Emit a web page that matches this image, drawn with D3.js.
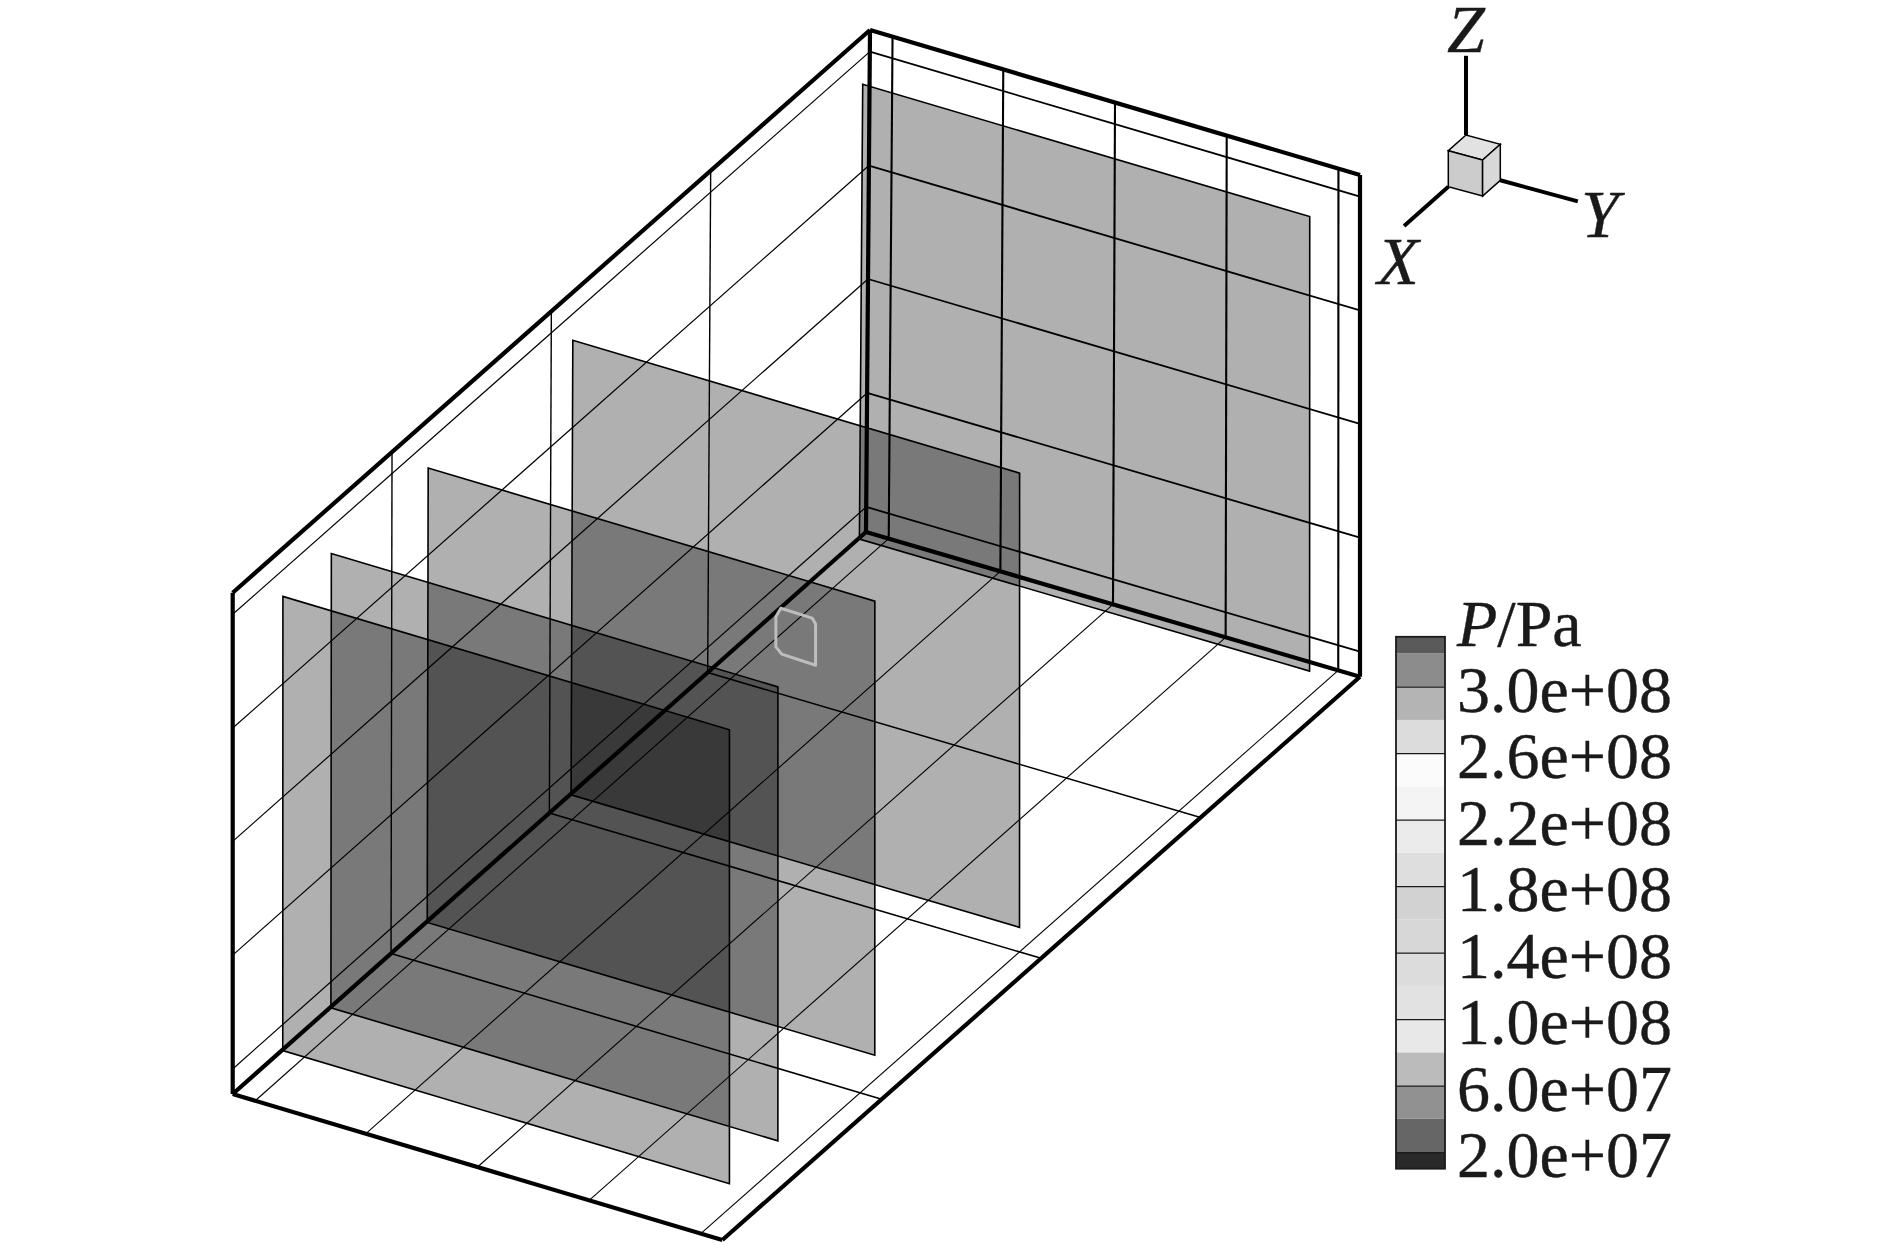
<!DOCTYPE html>
<html lang="en">
<head>
<meta charset="UTF-8" />
<title>P/Pa slices</title>
<style>
  body { margin: 0; background: #fff; }
  svg { display: block; }
  text { font-family: "Liberation Serif", serif; fill: #1a1a1a; stroke: #1a1a1a; stroke-width: 0.4; }
  .tick text { font-size: 66px; }
</style>
</head>
<body>
<svg width="1889" height="1252"></svg>
<script src="https://d3js.org/d3.v7.min.js"></script>
<script>
// model coordinates are fractions of the box: depth 0 = front, 1 = back
var depthGrid = [0.25, 0.5, 0.75];
var widthGrid = [0.046, 0.272, 0.5, 0.728, 0.956];
var heightGrid = [0.05, 0.277, 0.504, 0.73, 0.957];

var sliceDepths = [0.955, 0.5, 0.273, 0.121, 0.045];
var sliceWidths = [0.044, 0.956];
var sliceHeights = [0.049, 0.955];

// small light outline seen on the third slice
var outlineDepth = 0.273;
var outlineWidths = [0.754, 0.764, 0.828, 0.835, 0.835, 0.766, 0.754];
var outlineHeights = [0.865, 0.885, 0.884, 0.874, 0.792, 0.794, 0.805];

var bandEdges = [1e7, 2e7, 4e7, 6e7, 8e7, 1e8, 1.2e8, 1.4e8, 1.6e8, 1.8e8, 2e8, 2.2e8, 2.4e8, 2.6e8, 2.8e8, 3e8, 3.2e8, 3.3e8];
var tickValues = [3e8, 2.6e8, 2.2e8, 1.8e8, 1.4e8, 1e8, 6e7, 2e7];
var tickLabels = ["3.0e+08", "2.6e+08", "2.2e+08", "1.8e+08", "1.4e+08", "1.0e+08", "6.0e+07", "2.0e+07"];

var svg = d3.select("svg");

var lerp = function(a, b, t) {
  return d3.scaleLinear().domain([0, 1]).range([a, b])(t);
};

// frame corners on the page, [front, back] for each w/h corner
var bottomLeft = [[232.7, 1094], [866, 532]],
    bottomRight = [[722.3, 1240], [1360, 676.7]],
    topLeft = [[232.7, 592.7], [870, 30]],
    topRight = [[722.3, 739], [1360, 175]];

function project(d, w, h) {
  return [0, 1].map(function(i) {
    var low = lerp(lerp(bottomLeft[0][i], bottomLeft[1][i], d), lerp(bottomRight[0][i], bottomRight[1][i], d), w);
    var high = lerp(lerp(topLeft[0][i], topLeft[1][i], d), lerp(topRight[0][i], topRight[1][i], d), w);
    return lerp(low, high, h);
  });
}

var openPath = d3.line();
var closedPath = d3.line().curve(d3.curveLinearClosed);

function seg(g, a, b, width) {
  g.append("path")
    .attr("d", openPath([project.apply(null, a), project.apply(null, b)]))
    .attr("fill", "none")
    .attr("stroke", "#000")
    .attr("stroke-width", width);
}

// grid on floor and the two walls
var grid = svg.append("g");
heightGrid.forEach(function(h) {
  seg(grid, [0, 0, h], [1, 0, h], 1.2);
  seg(grid, [1, 0, h], [1, 1, h], 1.8);
});
depthGrid.forEach(function(d) {
  seg(grid, [d, 0, 0], [d, 0, 1], 1.4);
  seg(grid, [d, 0, 0], [d, 1, 0], 1.6);
});
widthGrid.forEach(function(w) {
  seg(grid, [1, w, 0], [1, w, 1], 2.1);
  seg(grid, [0, w, 0], [1, w, 0], 1.1);
});

// box frame
var frame = svg.append("g");
[
  [[0, 0, 0], [0, 0, 1]],
  [[0, 0, 1], [1, 0, 1]],
  [[1, 0, 1], [1, 1, 1]],
  [[1, 1, 1], [1, 1, 0]],
  [[1, 1, 0], [0, 1, 0]],
  [[0, 1, 0], [0, 0, 0]],
  [[0, 0, 0], [1, 0, 0]],
  [[1, 0, 0], [1, 1, 0]],
  [[1, 0, 0], [1, 0, 1]]
].forEach(function(e) { seg(frame, e[0], e[1], 4.2); });

// translucent slices, back to front
var slices = svg.append("g");
slices.selectAll("path")
  .data(sliceDepths)
  .enter().append("path")
  .attr("d", function(d) {
    return closedPath([
      project(d, sliceWidths[0], sliceHeights[0]),
      project(d, sliceWidths[0], sliceHeights[1]),
      project(d, sliceWidths[1], sliceHeights[1]),
      project(d, sliceWidths[1], sliceHeights[0])
    ]);
  })
  .attr("fill", "#000")
  .attr("fill-opacity", 0.31)
  .attr("stroke", "#000")
  .attr("stroke-width", 1.6)
  .attr("stroke-linejoin", "miter");

svg.append("path")
  .attr("d", closedPath(outlineWidths.map(function(w, i) {
    return project(outlineDepth, w, outlineHeights[i]);
  })))
  .attr("fill", "none")
  .attr("stroke", "#bdbdbd")
  .attr("stroke-width", 3)
  .attr("stroke-linejoin", "round");

// colour bar
var barLeft = 1396, barRight = 1445;
var barY = d3.scaleLinear().domain([1e7, 3.3e8]).range([1168.7, 636.8]);
var bandColor = d3.scaleQuantize()
  .domain([0, bandEdges.length - 1])
  .range(["#2a2a2a", "#666666", "#919191", "#bbbbbb", "#e8e8e8", "#e2e2e2", "#dcdcdc", "#d7d7d7", "#d2d2d2", "#dedede", "#ebebeb", "#f4f4f4", "#fbfbfb", "#dcdcdc", "#b4b4b4", "#8c8c8c", "#5a5a5a"]);

var bar = svg.append("g");
bar.selectAll("rect")
  .data(d3.pairs(bandEdges))
  .enter().append("rect")
  .attr("x", barLeft)
  .attr("width", barRight - barLeft)
  .attr("y", function(d) { return barY(d[1]); })
  .attr("height", function(d) { return barY(d[0]) - barY(d[1]); })
  .attr("fill", function(d, i) { return bandColor(i + 0.5); });

bar.append("rect")
  .attr("x", barLeft)
  .attr("y", barY(3.3e8))
  .attr("width", barRight - barLeft)
  .attr("height", barY(1e7) - barY(3.3e8))
  .attr("fill", "none")
  .attr("stroke", "#1a1a1a")
  .attr("stroke-width", 1.8);

var axis = svg.append("g")
  .attr("transform", "translate(" + barRight + ",0)")
  .call(d3.axisRight(barY)
    .tickValues(tickValues)
    .tickSize(barLeft - barRight)
    .tickFormat(function(d, i) { return tickLabels[i]; }));
axis.select(".domain").remove();
axis.selectAll(".tick line").attr("stroke", "#1a1a1a").attr("stroke-width", 1.3);
axis.selectAll(".tick text")
  .attr("x", 12)
  .attr("dy", "0.375em")
  .attr("text-anchor", "start");

var barTitle = svg.append("text")
  .attr("x", 1457)
  .attr("y", 646)
  .attr("font-size", 66);
barTitle.append("tspan").attr("font-style", "italic").text("P");
barTitle.append("tspan").text("/Pa");

// axis triad, one unit is a cube edge
var triadX = d3.scaleLinear().domain([0, 1]).range([0, -17.7]);
var triadXy = d3.scaleLinear().domain([0, 1]).range([0, 15.7]);
var triadYx = d3.scaleLinear().domain([0, 1]).range([0, 34.3]);
var triadYy = d3.scaleLinear().domain([0, 1]).range([0, 9.3]);
var triadZ = d3.scaleLinear().domain([0, 1]).range([0, -36]);

function triad(x, y, z) {
  return [1466 + triadX(x) + triadYx(y), 171 + triadXy(x) + triadYy(y) + triadZ(z)];
}

var axisEnds = [[1, 0, 0, 3.5], [0, 1, 0, 3.26], [0, 0, 1, 3.2]];
var tg = svg.append("g");
axisEnds.forEach(function(a) {
  var from = a[0] ? [1, 0, 0] : a[1] ? [0, 1, 0] : [0, 0, 1];
  tg.append("path")
    .attr("d", openPath([triad.apply(null, from), triad(a[0] * a[3], a[1] * a[3], a[2] * a[3])]))
    .attr("stroke", "#000")
    .attr("stroke-width", 4);
});
[
  { fill: "#e2e2e2", pts: [[0, 0, 1], [1, 0, 1], [1, 1, 1], [0, 1, 1]] },
  { fill: "#cccccc", pts: [[1, 0, 0], [1, 0, 1], [1, 1, 1], [1, 1, 0]] },
  { fill: "#d8d8d8", pts: [[1, 1, 0], [1, 1, 1], [0, 1, 1], [0, 1, 0]] }
].forEach(function(f) {
  tg.append("path")
    .attr("d", closedPath(f.pts.map(function(p) { return triad.apply(null, p); })))
    .attr("fill", f.fill)
    .attr("stroke", "#000")
    .attr("stroke-width", 1.5);
});

var axisNames = ["X", "Y", "Z"];
var axisNameX = [1398, 1600, 1466];
var axisNameY = [284, 237, 52];
tg.selectAll("text")
  .data(axisNames)
  .enter().append("text")
  .attr("x", function(d, i) { return axisNameX[i]; })
  .attr("y", function(d, i) { return axisNameY[i]; })
  .attr("text-anchor", "middle")
  .attr("font-style", "italic")
  .attr("font-size", 68)
  .text(function(d) { return d; });
</script>
</body>
</html>
